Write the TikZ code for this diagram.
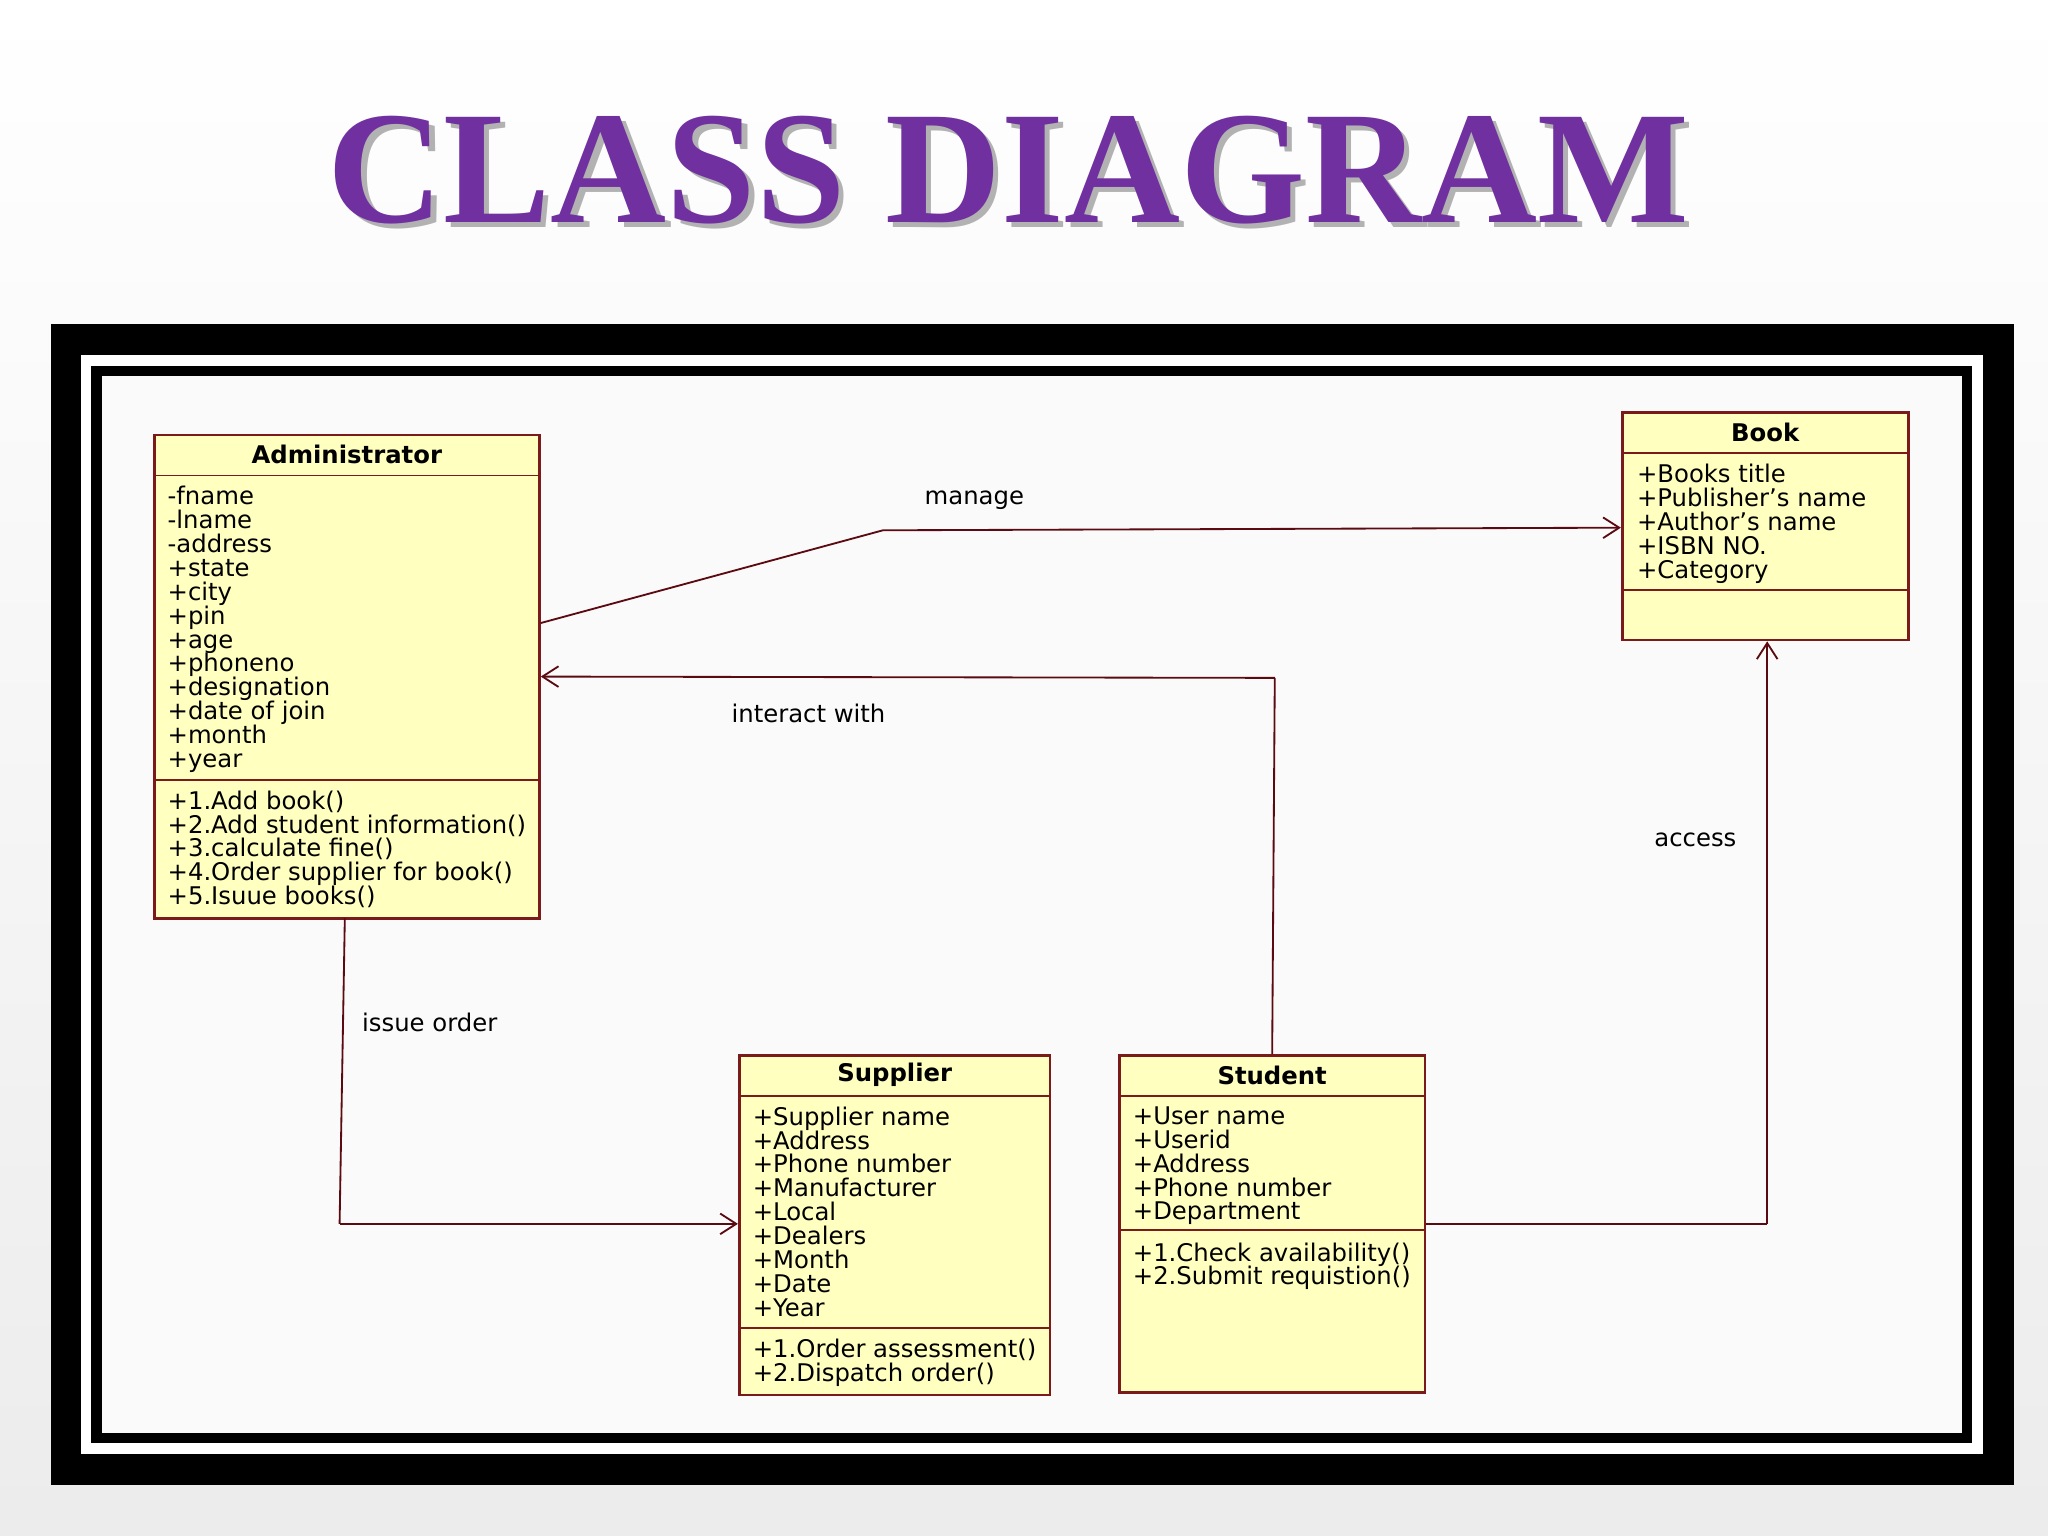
\documentclass[tikz,border=0pt]{standalone}
\usepackage{fontspec}
\setmainfont{DejaVu Sans}
\newfontfamily\titlefont{Liberation Serif}
\usetikzlibrary{arrows.meta,shadows,calc}
\definecolor{cls}{HTML}{FFFFC0}
\definecolor{clsb}{HTML}{7A1A1A}
\definecolor{lnk}{HTML}{5A0A10}
\definecolor{ttl}{HTML}{7030A0}
\tikzset{
 classbox/.style={draw=clsb,line width=1.2pt,fill=cls,inner sep=0pt},
 divider/.style={draw=clsb,line width=0.8pt},
 ctitle/.style={font=\fontsize{10.6}{12}\selectfont\bfseries,anchor=center},
 clist/.style={font=\fontsize{10.6}{10.4}\selectfont,anchor=north west,align=left,inner sep=0pt},
 link/.style={draw=lnk,line width=0.8pt},
 arr/.style={link,-{Straight Barb[length=7pt,width=9pt,line width=0.8pt]}},
 lbl/.style={font=\fontsize{10.6}{12}\selectfont,inner sep=0pt}
}
\begin{document}
\begin{tikzpicture}[x=0.02cm,y=-0.02cm]
\shade[top color=white,bottom color=gray!15] (0,0) rectangle (1568,1176);
\useasboundingbox (0,0) rectangle (1568,1176);
\node[font=\titlefont\fontsize{70}{76}\selectfont\bfseries,text=gray!60] (titles) at (776,134) {CLASS DIAGRAM};
\node[font=\titlefont\fontsize{70}{76}\selectfont\bfseries,text=ttl] (title) at (772,130) {CLASS DIAGRAM};
% frame
\fill[black] (39,248) rectangle (1542,1137);
\fill[white] (62,272) rectangle (1518,1113);
\fill[black] (70,280) rectangle (1510,1105);
\fill[gray!4] (78,288) rectangle (1502,1097);
% Administrator
\node[classbox,minimum width=5.9cm,minimum height=7.4cm] (admin) at (265.5,518) {};
\draw[divider] (118,364) -- (413,364);
\draw[divider] (118,597) -- (413,597);
\node[ctitle] (admint) at (265.5,348) {Administrator};
\node[clist] (adminattr) at (128,372) {-fname\\-lname\\-address\\+state\\+city\\+pin\\+age\\+phoneno\\+designation\\+date of join\\+month\\+year};
\node[clist] (adminop) at (128,605) {+1.Add book()\\+2.Add student information()\\+3.calculate fine()\\+4.Order supplier for book()\\+5.Isuue books()};
% Book
\node[classbox,minimum width=4.38cm,minimum height=3.48cm] (book) at (1351.5,403) {};
\draw[divider] (1242,347) -- (1461,347);
\draw[divider] (1242,452) -- (1461,452);
\node[ctitle] (bookt) at (1351.5,331) {Book};
\node[clist] (bookattr) at (1253,355) {+Books title\\+Publisher's name\\+Author's name\\+ISBN NO.\\+Category};
% Supplier
\node[classbox,minimum width=4.76cm,minimum height=5.2cm] (sup) at (685,938) {};
\draw[divider] (566,839) -- (804,839);
\draw[divider] (566,1017) -- (804,1017);
\node[ctitle] (supt) at (685,823) {Supplier};
\node[clist] (supattr) at (576,847) {+Supplier name\\+Address\\+Phone number\\+Manufacturer\\+Local\\+Dealers\\+Month\\+Date\\+Year};
\node[clist] (supop) at (576,1025) {+1.Order assessment()\\+2.Dispatch order()};
% Student
\node[classbox,minimum width=4.68cm,minimum height=5.16cm] (stu) at (974,937) {};
\draw[divider] (857,839) -- (1091,839);
\draw[divider] (857,942) -- (1091,942);
\node[ctitle] (stut) at (974,823) {Student};
\node[clist] (stuattr) at (867,847) {+User name\\+Userid\\+Address\\+Phone number\\+Department};
\node[clist] (stuop) at (867,951) {+1.Check availability()\\+2.Submit requistion()};
% connectors
\coordinate (m1) at (676,406);
\draw[link] (admin.east |- 0,477) -- (m1);
\draw[arr] (m1) -- (book.west |- 0,404);
\node[lbl] (ml) at (746,383) {manage};
\coordinate (i1) at (976,519);
\draw[link] (stu.north) -- (i1);
\draw[arr] (i1) -- (admin.east |- 0,518);
\node[lbl] (il) at (619,546) {interact with};
\coordinate (o1) at (260,937);
\draw[link] (264,703) -- (o1);
\draw[arr] (o1) -- (sup.west |- 0,937);
\node[lbl] (ol) at (329,783) {issue order};
\coordinate (a1) at (1353,937);
\draw[link] (stu.east |- 0,937) -- (a1);
\draw[arr] (a1) -- (book.south -| 1353,0);
\node[lbl] (al) at (1298,643) {access};
\end{tikzpicture}
\end{document}
